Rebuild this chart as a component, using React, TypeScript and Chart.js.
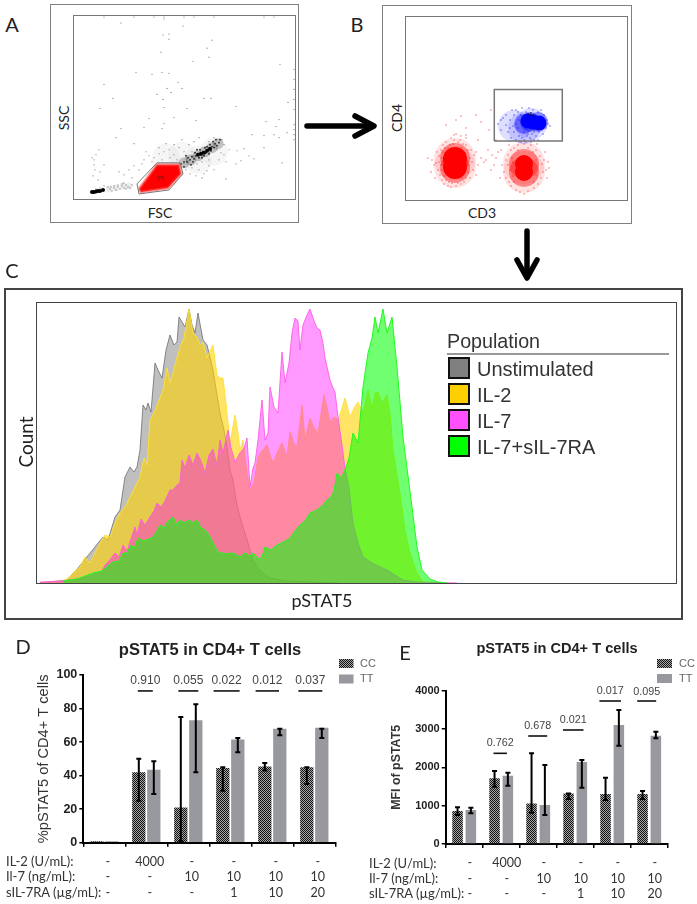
import React, { useEffect, useRef } from "react";
import Chart from "chart.js/auto";

type Pt = [number, number];

// ---------- Panel A: FSC / SSC dot plot ----------
const aSparse: Pt[] = [[47,176],[90,180],[109,173],[89,164],[95,165],[95,160],[138,159],[133,151],[87,147],[135,142],[119,138],[206,135],[62,127],[78,125],[88,127],[95,126],[104,117],[30,115],[108,111],[93,111],[97,107],[83,105],[39,101],[89,100],[130,101],[137,101],[214,97],[26,91],[162,93],[90,92],[113,91],[75,81],[100,82],[90,76],[205,80],[192,78],[70,72],[47,71],[88,71],[202,73],[122,79],[178,65],[190,64],[200,65],[205,62],[213,67],[42,62],[60,56],[163,49],[170,51],[175,44],[180,41],[167,39],[162,36],[208,37],[190,52],[152,21],[133,29],
[30,182],[60,182],[80,182],[90,182],[110,182],[120,182],[140,182],[190,182],[200,182],[220,130],[220,120],[220,110],[220,100],[220,90],[220,75],[220,70],[220,65],[220,60],
[20,40],[20,35],[22,45],[25,50],[21,30],[19,24],[26,28],[30,35],[24,20],[18,42],
[60,34],[65,30],[70,40],[75,44],[80,42],[85,46],[90,48],[95,50],[100,45],[105,52],[110,48],[115,55],[120,58],[125,62],[100,55],[108,60],[118,48],[112,42],[122,44],[128,38],[135,34],[140,30],[125,30],[118,32],[145,40],[150,45],[155,50],[148,60],[140,62],[135,58],[92,56],[85,52],[78,38],[68,36],[55,30],[50,25],[58,22],[45,28],[112,30],[116,26],[122,24],[130,26],[128,22],[135,40],[110,36],[116,40],[123,36],[150,55],[152,38],[143,50],[147,47],[72,48],[82,33],[88,40],[96,42],[103,40],
[36,11],[38,9],[40,12],[42,10],[44,13],[46,11],[48,14],[50,12],[52,15],[54,13],[56,12],[44,15],[40,14],[37,13],[48,16],[52,11],[58,15],[50,17],[34,13],[30,14],[26,12],[22,11]];
const aRidge: Pt[] = [[107,36],[110,38],[113,38],[116,40],[114,42],[118,43],[120,41],[122,44],[121,47],[124,46],[125,42],[127,45],[129,48],[126,50],[130,44],[132,47],[134,50],[131,52],[135,46],[137,49],[138,53],[136,55],[140,52],[141,56],[143,54],[139,58],[145,57],[133,53],[128,42],[123,50],[119,38],[112,44],[117,35],[146,60],[142,60],[110,33]];
const aCore: Pt[] = [[124,45],[127,46],[130,47],[133,49],[136,51],[18,8],[20,8],[22,8.5],[24,9],[26,9],[29,10]];
const aGlowRidge: Pt[] = [[110,37],[117,40],[124,44],[131,48],[138,52],[144,56]];
const aGlowTail: Pt[] = [[35,11],[42,12],[49,14],[55,14]];
const aGlowWide: Pt[] = [[92,42],[108,44],[124,40],[140,48]];
const aGateFill: Pt[] = [[65,11],[83,35],[105,35],[107,26],[94,12],[67,8],[65,11]];
const aGateLine: Pt[] = [[63,16],[83,37],[106,37],[109,26],[95,10],[65,6],[63,16]];

// ---------- Panel B: CD3 / CD4 dot plot ----------
const bRedCoreLeft: Pt[] = [[49,41],[49,33]];
const bRedCoreRight: Pt[] = [[118,36],[118,28]];
const bRedMid: Pt[] = [[49,42],[49,32],[118,36],[118,28]];
const bRedGlow: Pt[] = [[49,41],[49,33],[118,37],[118,28]];
const bRedHalo: Pt[] = [[30,37],[32,30],[33,44],[34,25],[35,50],[36,20],[28,35],[26,40],[25,28],[22,42],[37,55],[40,58],[38,16],[42,14],[45,13],[48,60],[50,14],[52,58],[54,60],[55,16],[58,18],[60,22],[62,28],[63,35],[64,42],[62,50],[60,55],[57,56],[66,38],[67,30],[68,45],[70,48],[72,35],[70,25],[35,35],[36,42],[36,30],[37,48],[38,24],[40,20],[42,52],[39,52],[44,55],[46,17],[52,17],[56,22],[59,30],[60,40],[59,47],[55,52],[47,56],[43,18],[31,48],[29,22],[75,42],[78,38],[33,38],[65,50],[64,22],[45,62],[55,64],[60,62],[50,66],[48,65],
[96,35],[98,28],[100,40],[100,22],[102,45],[103,18],[104,30],[105,50],[105,14],[107,38],[107,24],[108,52],[110,10],[112,55],[114,8],[118,6],[122,9],[125,55],[128,12],[130,50],[132,16],[134,44],[135,22],[136,36],[137,28],[138,40],[140,30],[141,22],[142,38],[118,56],[112,50],[122,52],[127,48],[130,40],[130,25],[128,18],[108,18],[106,42],[102,35],[90,42],[88,35],[85,30],[92,48],[86,45],[82,50],[95,50],[94,22],[80,40],[143,32],[119,60],[113,58],[125,60],[103,55],[131,56],[139,48],
[40,75],[50,80],[55,84],[70,85],[85,90],[75,78],[60,72],[83,70],[90,60],[72,60],[60,65]];
const bBlueCore: Pt[] = [[133,77],[127,78],[122,79]];
const bBlueMid: Pt[] = [[132,78],[124,78],[118,76]];
const bBlueGlow: Pt[] = [[125,76],[118,72],[108,74]];
const bBlueHalo: Pt[] = [[92,76],[95,70],[97,82],[100,75],[102,68],[104,80],[105,62],[107,74],[108,85],[108,68],[110,60],[110,90],[112,72],[113,80],[113,64],[115,58],[115,85],[116,92],[118,60],[118,68],[120,88],[120,58],[121,64],[123,92],[124,62],[125,58],[126,66],[127,90],[128,60],[130,64],[132,60],[132,88],[133,68],[135,90],[137,66],[138,85],[140,72],[141,80],[142,76],[144,74],[112,88],[106,90],[104,72],[100,85],[95,80],[120,72],[116,62],[122,66],[128,68],[110,76]];
const bBlack: Pt[] = [[122,86],[125,87],[127,85],[124,85]];
const bGate: Pt[] = [[88.3,59],[156.3,59],[156.3,110.5],[88.3,110.5],[88.3,59]];

// ---------- Panel C: pSTAT5 histograms ----------
const populationNames = ["Unstimulated", "IL-2", "IL-7", "IL-7+sIL-7RA"];
const populationSwatches = ["#808080", "#ffd000", "#ff50ff", "#00ff00"];
const unstimChannels = [3,30,41,66,71,78,83,88,93,97,100,103,106,109,111,114,118,121,125,129,133,137,140,142,145,148,152,155,158,161,166,170,173,176,180,183,187,190,193,196,199,203,207,211,216,221,226,233,250,273,303];
const unstimCounts = [0,3,15,46,43,66,73,106,116,111,116,133,178,173,180,171,220,213,205,233,248,238,241,266,261,256,274,258,250,270,243,238,226,213,188,170,153,136,113,103,83,66,53,40,23,15,10,5,2,1,0];
const il2Channels = [3,26,33,38,43,48,53,58,63,68,73,78,83,88,93,98,103,107,110,113,117,121,126,130,133,136,139,143,147,152,156,160,163,166,170,173,176,180,183,186,189,193,198,201,203,206,210,213,217,221,225,230,233,236,241,245,250,253,257,260,265,268,273,277,281,287,290,293,297,301,305,308,313,317,321,326,331,335,338,341,345,350,353,356,363,368,373,380,386,403];
const il2Counts = [0,2,6,12,16,26,20,30,40,48,46,60,70,76,86,96,106,125,118,163,170,180,193,215,200,210,222,236,245,274,250,246,238,241,225,232,238,208,205,205,180,140,168,150,133,143,110,93,100,126,132,138,128,120,132,140,126,151,140,136,178,143,165,155,150,188,175,161,166,163,175,185,166,175,181,170,193,175,190,191,180,188,170,133,90,53,30,10,1,0];
const il7Channels = [3,26,40,55,65,68,72,78,82,86,90,94,98,100,104,108,113,117,120,124,128,133,136,140,143,145,148,152,156,160,164,168,172,176,180,183,186,191,194,198,203,207,210,213,216,218,221,225,228,231,233,237,241,245,248,252,255,258,261,263,266,270,273,277,280,283,286,288,293,296,298,301,304,308,312,316,321,326,335,350,366,380,420];
const il7Counts = [1,2,4,8,12,18,22,30,26,38,32,44,56,48,64,58,66,72,80,76,82,93,93,98,100,123,115,128,118,130,122,110,128,134,118,143,130,153,135,121,130,135,145,96,115,120,143,183,143,150,196,176,170,231,200,220,250,265,262,233,258,268,274,262,255,253,240,225,203,195,191,166,145,115,95,60,40,26,20,13,3,1,0];
const comboChannels = [26,40,56,65,72,76,82,86,90,94,97,101,106,112,116,120,123,127,131,134,136,140,143,147,152,156,160,164,168,172,176,181,188,196,203,208,213,216,222,225,228,234,240,246,252,258,263,268,273,280,286,290,294,297,300,304,308,312,316,321,326,331,335,338,341,346,350,355,360,366,375,380,385,393,401,410];
const comboCounts = [2,4,10,12,18,21,22,30,30,38,34,45,42,44,46,52,58,55,62,64,66,58,63,60,63,60,63,55,53,48,40,31,29,30,26,30,27,30,24,26,36,33,38,41,44,52,58,62,70,73,78,83,86,92,110,105,113,125,150,140,196,230,245,266,250,274,250,266,216,146,76,36,13,4,1,0];

// ---------- Panels D and E: bars ----------
const il2Row = ["-", "4000", "-", "-", "-", "-"];
const il7Row = ["-", "-", "10", "10", "10", "10"];
const sil7Row = ["-", "-", "-", "1", "10", "20"];
const rowNames = ["IL-2 (U/mL):", "Il-7 (ng/mL):", "sIL-7RA (µg/mL):"];

const pctCC = [0.8, 42, 21, 44.5, 45.5, 45];
const pctTT = [0.8, 43.5, 73, 61.5, 68, 68.5];
const pctCCHigh = [null, 50, 75, 45, 47.5, 45];
const pctCCLow = [null, 25, 1, 31, 43, 35];
const pctTTHigh = [null, 48.5, 82.5, 62.5, 68, 68];
const pctTTLow = [null, 29, 42, 54, 64, 62.5];
const pctPValues = ["", "0.910", "0.055", "0.022", "0.012", "0.037"];
const pctPLevels = [0, 90.5, 90.5, 90.5, 90.5, 90.5];

const mfiCC = [860, 1715, 1060, 1320, 1305, 1305];
const mfiTT = [887, 1780, 1018, 2140, 3105, 2825];
const mfiCCHigh = [957, 1905, 2366, 1320, 1731, 1383];
const mfiCCLow = [757, 1496, 818, 1175, 1148, 1175];
const mfiTTHigh = [948, 1860, 2062, 2192, 3497, 2932];
const mfiTTLow = [800, 1522, 757, 1470, 2566, 2758];
const mfiPValues = ["", "0.762", "0.678", "0.021", "0.017", "0.095"];
const mfiPLevels = [0, 2366, 2818, 2975, 3731, 3731];

const SANS = "'Liberation Sans', Arial, sans-serif";
const CAL = "Lato, 'Open Sans', sans-serif";

function T(p: { x: number; y: number; s: number; children: string; f?: string; b?: boolean; c?: string; r?: boolean; left?: boolean }) {
  return (
    <div
      style={{
        position: "absolute",
        left: p.x,
        top: p.y,
        fontFamily: p.f || CAL,
        fontSize: p.s,
        fontWeight: p.b ? 700 : 400,
        color: p.c || "#222",
        whiteSpace: "nowrap",
        lineHeight: 1,
        transform: p.left ? "translate(0,-50%)" : `translate(-50%,-50%)${p.r ? " rotate(-90deg)" : ""}`,
      }}
    >
      {p.children}
    </div>
  );
}

function Box(p: { x0: number; y0: number; x1: number; y1: number; w: number; c: string }) {
  return (
    <div
      style={{
        position: "absolute",
        left: p.x0,
        top: p.y0,
        width: p.x1 - p.x0,
        height: p.y1 - p.y0,
        boxSizing: "border-box",
        border: `${p.w}px solid ${p.c}`,
      }}
    />
  );
}

const xy = (pts: Pt[]) => pts.map(([x, y]) => ({ x, y }));
const dots = (pts: Pt[], color: string, r: number) => ({
  data: xy(pts),
  backgroundColor: color,
  borderWidth: 0,
  pointRadius: r,
  showLine: false,
});

function useDotPlot(datasets: () => any[], xMax: number, yMax: number, extra?: any) {
  const ref = useRef<HTMLCanvasElement>(null);
  useEffect(() => {
    const chart = new Chart(ref.current!, {
      type: "scatter",
      data: { datasets: datasets() },
      options: {
        responsive: false,
        animation: false,
        events: [],
        layout: { autoPadding: false },
        plugins: { legend: { display: false }, tooltip: { enabled: false } },
        scales: {
          x: { display: false, type: "linear", min: 0, max: xMax },
          y: { display: false, min: 0, max: yMax },
        },
      },
      plugins: extra ? [extra] : [],
    } as any);
    return () => chart.destroy();
  }, []);
  return ref;
}

function PanelA() {
  const label = {
    id: "p5",
    afterDraw(c: any) {
      const g = c.ctx;
      g.save();
      g.fillStyle = "#7a1010";
      g.font = "6px " + SANS;
      g.textAlign = "center";
      g.fillText("P5", c.scales.x.getPixelForValue(87), c.scales.y.getPixelForValue(20));
      g.restore();
    },
  };
  const ref = useDotPlot(
    () => [
      { data: xy(aGateLine), showLine: true, borderColor: "#777", borderWidth: 1, pointRadius: 0, order: 1 },
      { data: xy(aGateFill), showLine: true, fill: "shape", backgroundColor: "#ff0000", borderColor: "rgba(255,70,70,0.55)", borderWidth: 3, pointRadius: 0, order: 2 },
      { ...dots(aCore, "#000", 2), order: 3 },
      { ...dots(aRidge, "#222", 0.9), order: 4 },
      { ...dots(aSparse, "rgba(0,0,0,0.55)", 0.6), order: 5 },
      { ...dots(aGlowRidge, "rgba(0,0,0,0.22)", 5.5), order: 6 },
      { ...dots(aGlowTail, "rgba(0,0,0,0.07)", 3.5), order: 7 },
      { ...dots(aGlowWide, "rgba(0,0,0,0.035)", 14), order: 8 },
    ],
    221,
    183,
    label
  );
  return <canvas ref={ref} width={221} height={184} style={{ position: "absolute", left: 74, top: 16 }} />;
}

function PanelB() {
  const ref = useDotPlot(
    () => [
      { data: xy(bGate), showLine: true, borderColor: "#777", borderWidth: 1.5, pointRadius: 0, order: 1 },
      { ...dots(bBlack, "#111", 0.8), order: 2 },
      { ...dots(bBlueCore, "#0000ff", 7.5), order: 3 },
      { ...dots(bBlueMid, "rgba(0,0,255,0.4)", 10), order: 4 },
      { ...dots(bBlueHalo, "rgba(0,0,255,0.6)", 0.8), order: 5 },
      { ...dots(bBlueGlow, "rgba(0,0,255,0.13)", 16), order: 6 },
      { ...dots(bRedCoreLeft, "#ff0000", 12), order: 7 },
      { ...dots(bRedCoreRight, "#ff0000", 9), order: 8 },
      { ...dots(bRedMid, "rgba(255,0,0,0.4)", 15), order: 9 },
      { ...dots(bRedGlow, "rgba(255,0,0,0.11)", 21), order: 10 },
      { ...dots(bRedHalo, "rgba(255,0,0,0.55)", 0.8), order: 11 },
    ],
    222,
    183
  );
  return <canvas ref={ref} width={222} height={183} style={{ position: "absolute", left: 406, top: 17 }} />;
}

function PanelC() {
  const ref = useRef<HTMLCanvasElement>(null);
  useEffect(() => {
    const series = (cs: number[], vs: number[]) => cs.map((x, i) => ({ x, y: vs[i] }));
    const chart = new Chart(ref.current!, {
      type: "line",
      data: {
        datasets: [
          { label: populationNames[0], data: series(unstimChannels, unstimCounts), backgroundColor: "rgba(128,128,128,0.5)", borderColor: "rgba(110,110,110,0.8)", order: 4 },
          { label: populationNames[1], data: series(il2Channels, il2Counts), backgroundColor: "rgba(255,210,0,0.6)", borderColor: "rgba(255,225,50,0.9)", order: 3 },
          { label: populationNames[2], data: series(il7Channels, il7Counts), backgroundColor: "rgba(255,0,255,0.4)", borderColor: "rgba(255,90,230,0.9)", order: 2 },
          { label: populationNames[3], data: series(comboChannels, comboCounts), backgroundColor: "rgba(0,255,0,0.56)", borderColor: "rgba(30,250,30,1)", order: 1 },
        ].map((d) => ({ ...d, fill: "origin", pointRadius: 0, borderWidth: 1, tension: 0 })),
      },
      options: {
        responsive: false,
        animation: false,
        events: [],
        layout: { autoPadding: false },
        plugins: { legend: { display: false }, tooltip: { enabled: false } },
        scales: {
          x: { display: false, type: "linear", min: 0, max: 639 },
          y: { display: false, min: 0, max: 280 },
        },
      },
    } as any);
    return () => chart.destroy();
  }, []);
  return <canvas ref={ref} width={639} height={280} style={{ position: "absolute", left: 37, top: 303 }} />;
}

type BarCfg = {
  left: number; top: number; width: number; height: number;
  axisLeft: number; axisRight: number; axisTop: number; axisBottom: number;
  cc: number[]; tt: number[];
  ccHigh: (number | null)[]; ccLow: (number | null)[]; ttHigh: (number | null)[]; ttLow: (number | null)[];
  pValues: string[]; pLevels: number[];
  yMax: number; yStep: number; yTitle: string;
  titleFont: any; tickFont: any; pFontSize: number;
  catPct: number; barPct: number; labelOffset: number;
  pBars: { cx: number; half: number; textDy: number }[];
  legendX: number; legendTextX: number; legendW: number; legendY: number[];
};

function BarPanel({ cfg }: { cfg: BarCfg }) {
  const ref = useRef<HTMLCanvasElement>(null);
  useEffect(() => {
    const off = document.createElement("canvas");
    off.width = 2;
    off.height = 2;
    const o = off.getContext("2d")!;
    o.fillStyle = "#a8a8a8";
    o.fillRect(0, 0, 2, 2);
    o.fillStyle = "#111";
    o.fillRect(0, 0, 1, 1);
    o.fillRect(1, 1, 1, 1);
    const canvas = ref.current!;
    const pattern = canvas.getContext("2d")!.createPattern(off, "repeat")!;
    const solid = "#98989f";

    const overlay = {
      id: "overlay",
      afterDatasetsDraw(c: any) {
        const g = c.ctx;
        const y = c.scales.y;
        const x = c.scales.x;
        g.save();
        g.strokeStyle = "#000";
        g.lineWidth = 2;
        c.data.datasets.forEach((ds: any, i: number) => {
          const meta = c.getDatasetMeta(i);
          const hi = i === 0 ? cfg.ccHigh : cfg.ttHigh;
          const lo = i === 0 ? cfg.ccLow : cfg.ttLow;
          meta.data.forEach((bar: any, j: number) => {
            if (hi[j] == null || lo[j] == null) return;
            const a = y.getPixelForValue(hi[j]);
            const b = y.getPixelForValue(lo[j]);
            g.beginPath();
            g.moveTo(bar.x, a);
            g.lineTo(bar.x, b);
            g.moveTo(bar.x - 2.5, a);
            g.lineTo(bar.x + 2.5, a);
            g.moveTo(bar.x - 2.5, b);
            g.lineTo(bar.x + 2.5, b);
            g.stroke();
          });
        });
        g.textAlign = "center";
        g.textBaseline = "middle";
        g.font = `${cfg.pFontSize}px ${SANS}`;
        cfg.pValues.forEach((p, j) => {
          if (!p) return;
          const px = x.getPixelForTick(j) + cfg.pBars[j].cx;
          const py = y.getPixelForValue(cfg.pLevels[j]);
          g.strokeStyle = "#111";
          g.lineWidth = 1.6;
          g.beginPath();
          g.moveTo(px - cfg.pBars[j].half, py);
          g.lineTo(px + cfg.pBars[j].half, py);
          g.stroke();
          g.fillStyle = "#444";
          g.fillText(p, px, py + cfg.pBars[j].textDy);
        });
        c.data.datasets.forEach((ds: any, i: number) => {
          const ly = cfg.legendY[i] - cfg.top;
          g.fillStyle = ds.backgroundColor;
          g.fillRect(cfg.legendX - cfg.left, ly - 4.5, cfg.legendW, 9);
          g.fillStyle = "#666";
          g.font = `11px ${SANS}`;
          g.textAlign = "left";
          g.fillText(ds.label, cfg.legendTextX - cfg.left, ly);
        });
        g.restore();
      },
    };

    const chart = new Chart(canvas, {
      type: "bar",
      data: {
        labels: il2Row.map((v, i) => [v, il7Row[i], sil7Row[i]]),
        datasets: [
          { label: "CC", data: cfg.cc, backgroundColor: pattern, categoryPercentage: cfg.catPct, barPercentage: cfg.barPct },
          { label: "TT", data: cfg.tt, backgroundColor: solid, categoryPercentage: cfg.catPct, barPercentage: cfg.barPct },
        ],
      },
      options: {
        responsive: false,
        animation: false,
        events: [],
        layout: { padding: { top: cfg.axisTop - cfg.top, right: cfg.left + cfg.width - cfg.axisRight, left: 0, bottom: 0 } },
        plugins: { legend: { display: false }, tooltip: { enabled: false } },
        scales: {
          x: {
            afterFit: (s: any) => { s.height = cfg.top + cfg.height - cfg.axisBottom; },
            grid: { drawOnChartArea: false, color: "#000", tickColor: "#000", tickLength: 4, lineWidth: 1.5 },
            border: { color: "#000", width: 2 },
            ticks: {
              maxRotation: 0,
              autoSkip: false,
              color: "#333",
              padding: 7.5,
              labelOffset: cfg.labelOffset,
              font: { family: CAL, size: 12.5, lineHeight: 15.5 / 12.5 },
            },
          },
          y: {
            afterFit: (s: any) => { s.width = cfg.axisLeft - cfg.left; },
            min: 0,
            max: cfg.yMax,
            grid: { drawOnChartArea: false, color: "#000", tickColor: "#000", tickLength: 4, lineWidth: 1.5 },
            border: { color: "#000", width: 2 },
            ticks: { stepSize: cfg.yStep, color: "#222", padding: 2, font: cfg.tickFont, callback: (v: any) => String(v) },
            title: { display: true, text: cfg.yTitle, color: "#333", font: cfg.titleFont, padding: 0 },
          },
        },
      },
      plugins: [overlay],
    } as any);
    return () => chart.destroy();
  }, []);
  return (
    <canvas
      ref={ref}
      width={cfg.width}
      height={cfg.height}
      style={{ position: "absolute", left: cfg.left, top: cfg.top }}
    />
  );
}

const cfgD: BarCfg = {
  left: 35, top: 645, width: 345, height: 259,
  axisLeft: 83.3, axisRight: 335.3, axisTop: 675, axisBottom: 842.7,
  cc: pctCC, tt: pctTT, ccHigh: pctCCHigh, ccLow: pctCCLow, ttHigh: pctTTHigh, ttLow: pctTTLow,
  pValues: pctPValues, pLevels: pctPLevels,
  yMax: 100, yStep: 20, yTitle: "%pSTAT5 of CD4+ T cells",
  titleFont: { family: SANS, size: 14.6 }, tickFont: { family: SANS, size: 12.5, weight: "bold" }, pFontSize: 12,
  catPct: 0.714, barPct: 0.887, labelOffset: 3.5,
  pBars: [
    { cx: 0, half: 0, textDy: 0 },
    { cx: -1, half: 7.5, textDy: -10 },
    { cx: 0, half: 10, textDy: -10 },
    { cx: -3.7, half: 13, textDy: -10 },
    { cx: -5, half: 11.7, textDy: -10 },
    { cx: -4, half: 12, textDy: -10 },
  ],
  legendX: 339, legendTextX: 360, legendW: 14.5, legendY: [663.5, 679],
};

const cfgE: BarCfg = {
  left: 389, top: 645, width: 308, height: 259,
  axisLeft: 445.7, axisRight: 667.7, axisTop: 690.7, axisBottom: 844,
  cc: mfiCC, tt: mfiTT, ccHigh: mfiCCHigh, ccLow: mfiCCLow, ttHigh: mfiTTHigh, ttLow: mfiTTLow,
  pValues: mfiPValues, pLevels: mfiPLevels,
  yMax: 4000, yStep: 1000, yTitle: "MFI of pSTAT5",
  titleFont: { family: SANS, size: 12.4, weight: "bold" }, tickFont: { family: SANS, size: 11, weight: "bold" }, pFontSize: 10.8,
  catPct: 0.72, barPct: 0.79, labelOffset: 5.5,
  pBars: [
    { cx: 0, half: 0, textDy: 0 },
    { cx: -1, half: 6.7, textDy: -10 },
    { cx: -0.5, half: 9.5, textDy: -9.5 },
    { cx: -2, half: 10.3, textDy: -9.5 },
    { cx: -2, half: 10.8, textDy: -9.5 },
    { cx: -2.5, half: 9.5, textDy: -9 },
  ],
  legendX: 657, legendTextX: 679, legendW: 15, legendY: [663.5, 678.5],
};

function RowNames({ x, ys }: { x: number; ys: number[] }) {
  return (
    <>
      {rowNames.map((n, i) => (
        <T key={n} x={x} y={ys[i]} s={13} c="#333" left>{n}</T>
      ))}
    </>
  );
}

function Arrows() {
  return (
    <svg width={697} height={904} style={{ position: "absolute", left: 0, top: 0, pointerEvents: "none" }}>
      <g fill="none" stroke="#000" strokeWidth={5.5} strokeLinecap="round" strokeLinejoin="round">
        <path d="M307 126 L372 126" />
        <path d="M355 116 L374 126 L355 136" />
        <path d="M527 231 L527 277" />
        <path d="M517 260 L527 278 L537 260" />
      </g>
    </svg>
  );
}

export default function App() {
  return (
    <div style={{ position: "absolute", left: 0, top: 0, width: 697, height: 904, overflow: "hidden", background: "#fff" }}>
      <Box x0={50} y0={4} x1={299} y1={222.5} w={1.5} c="#808080" />
      <Box x0={73} y0={15} x1={295.5} y1={200} w={1.5} c="#777" />
      <PanelA />
      <T x={12} y={24} s={20}>A</T>
      <T x={160} y={213} s={14}>FSC</T>
      <T x={64} y={118} s={14} r>SSC</T>

      <Box x0={382} y0={4.5} x1={631.5} y1={223.5} w={1.5} c="#808080" />
      <Box x0={405} y0={16} x1={628} y1={201} w={1.5} c="#777" />
      <PanelB />
      <T x={357} y={24} s={20}>B</T>
      <T x={482} y={213} s={14}>CD3</T>
      <T x={397} y={118} s={14} r>CD4</T>

      <Arrows />

      <T x={12} y={270} s={20}>C</T>
      <Box x0={4} y0={288} x1={683} y1={620} w={2} c="#444" />
      <Box x0={36} y0={302} x1={677} y1={584} w={1.5} c="#444" />
      <PanelC />
      <T x={25} y={442} s={19} r>Count</T>
      <T x={322} y={600} s={18}>pSTAT5</T>
      <T x={447} y={342} s={19.7} f={SANS} c="#333" left>Population</T>
      <div style={{ position: "absolute", left: 447, top: 353, width: 222, height: 2, background: "#999" }} />
      {populationNames.map((n, i) => (
        <React.Fragment key={n}>
          <div
            style={{
              position: "absolute",
              left: 448,
              top: 357 + i * 26,
              width: 22,
              height: 22,
              boxSizing: "border-box",
              border: "2px solid #111",
              background: populationSwatches[i],
            }}
          />
          <T x={477} y={369 + i * 26} s={20} f={SANS} c="#333" left>{n}</T>
        </React.Fragment>
      ))}

      <T x={23} y={646} s={20}>D</T>
      <T x={210} y={649} s={16.5} f={SANS} b>pSTAT5 in CD4+ T cells</T>
      <RowNames x={6} ys={[861, 876, 892]} />
      <BarPanel cfg={cfgD} />

      <T x={405} y={652} s={20}>E</T>
      <T x={557} y={648} s={14.6} f={SANS} b>pSTAT5 in CD4+ T cells</T>
      <RowNames x={369} ys={[863, 878, 893]} />
      <BarPanel cfg={cfgE} />
    </div>
  );
}
